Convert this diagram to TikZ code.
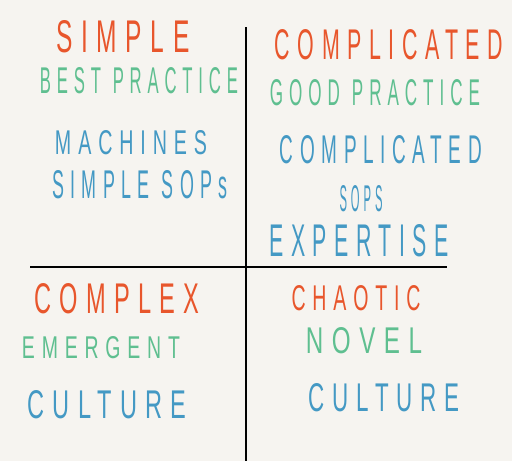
\documentclass[tikz,border=0pt]{standalone}
\usepackage{fontspec}
\setmainfont{Liberation Sans}
\usepackage{graphicx}
\definecolor{bg}{HTML}{F6F4F0}
\definecolor{hdr}{HTML}{E8562C}
\definecolor{grn}{HTML}{5FBF90}
\definecolor{blu}{HTML}{4499C4}
\newcommand{\hw}[3]{\resizebox{#1pt}{#2pt}{\addfontfeature{LetterSpace=35}#3}}
\newcommand{\gap}{\hspace{0.7em}}
\begin{document}
\begin{tikzpicture}[x=1pt,y=-1pt,
  lbl/.style={inner sep=0pt,anchor=center},
  head/.style={lbl,text=hdr},
  prac/.style={lbl,text=grn},
  item/.style={lbl,text=blu},
  axis/.style={line width=1.8pt,black}]
\fill[bg] (0,0) rectangle (512,461);
\useasboundingbox (0,0) rectangle (512,461);
\coordinate (vt) at (246,27);
\coordinate (vb) at (246,461);
\coordinate (hl) at (30,267);
\coordinate (hr) at (447,267);
\draw[axis] (vt) -- (vb);
\draw[axis] (hl) -- (hr);
% top left
\node[head] (simple) at (123,37) {\hw{133}{32}{SIMPLE}};
\node[prac] (best) at (139,81) {\hw{198}{26}{BEST\gap PRACTICE}};
\node[item] (mach) at (131,143) {\hw{152}{24}{MACHINES}};
\node[item] (ssops) at (140,185) {\hw{175}{28}{SIMPLE\gap SOPs}};
% top right
\node[head] (compl) at (389,45) {\hw{228}{30}{COMPLICATED}};
\node[prac] (good) at (375,93) {\hw{210}{26}{GOOD\gap PRACTICE}};
\node[item] (compl2) at (381,150) {\hw{202}{28}{COMPLICATED}};
\node[item] (sops) at (361,199) {\hw{43}{26}{SOPS}};
\node[item] (expert) at (359,241) {\hw{179}{32}{EXPERTISE}};
% bottom left
\node[head] (complex) at (117,299) {\hw{165}{30}{COMPLEX}};
\node[prac] (emerg) at (101,348) {\hw{158}{22}{EMERGENT}};
\node[item] (cult1) at (107,405) {\hw{159}{28}{CULTURE}};
% bottom right
\node[head] (chaos) at (356,298) {\hw{129}{25}{CHAOTIC}};
\node[prac] (novel) at (364,341) {\hw{116}{26}{NOVEL}};
\node[item] (cult2) at (384,398) {\hw{151}{28}{CULTURE}};
\end{tikzpicture}
\end{document}
